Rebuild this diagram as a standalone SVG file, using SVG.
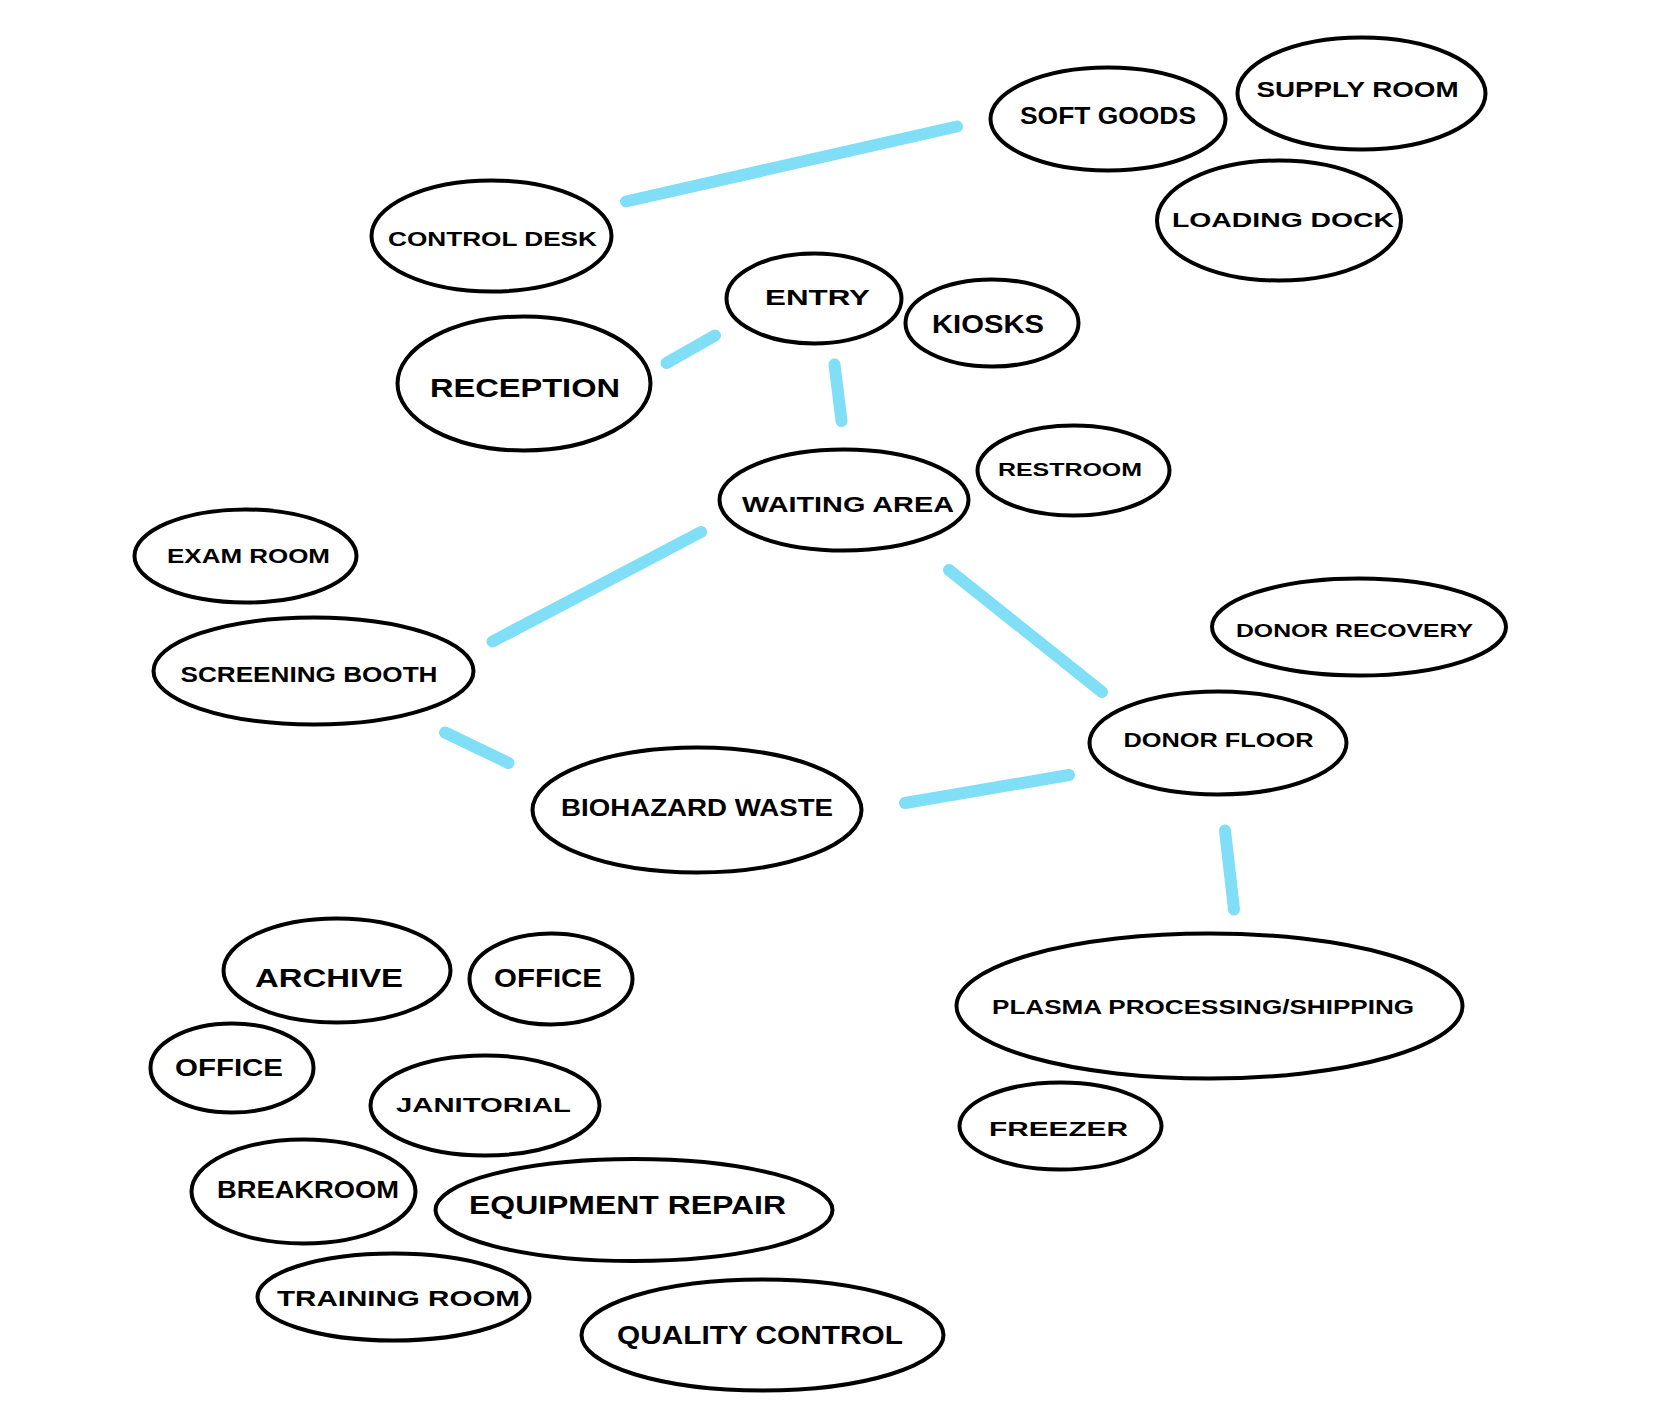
<svg xmlns="http://www.w3.org/2000/svg" width="1668" height="1426" viewBox="0 0 1668 1426">
<style>
.n ellipse{fill:#fff;stroke:#000;stroke-width:4}
.n text{font-family:"Liberation Sans",Arial,sans-serif;font-weight:bold;fill:#000;text-anchor:middle}
.c line{stroke:#80dff7;stroke-width:12;stroke-linecap:round}
</style>
<rect width="1668" height="1426" fill="#fff"/>
<g class="c" id="connectors">
<line x1="626" y1="201.5" x2="957" y2="126.5"/>
<line x1="666.5" y1="363" x2="715" y2="335.5"/>
<line x1="834.5" y1="364.5" x2="841.5" y2="421"/>
<line x1="701" y1="532" x2="492.5" y2="641.5"/>
<line x1="949" y1="570" x2="1102" y2="692"/>
<line x1="445" y1="732.5" x2="508.5" y2="763"/>
<line x1="905" y1="803" x2="1069" y2="775"/>
<line x1="1225" y1="830.5" x2="1234" y2="909.5"/>
</g>
<g class="n" id="control-desk"><ellipse cx="491.5" cy="236" rx="120" ry="55.5"/><text x="492.5" y="245.5" font-size="21" textLength="209" lengthAdjust="spacingAndGlyphs">CONTROL DESK</text></g>
<g class="n" id="soft-goods"><ellipse cx="1108" cy="119" rx="117.5" ry="51.5"/><text x="1108" y="124" font-size="24" textLength="176" lengthAdjust="spacingAndGlyphs">SOFT GOODS</text></g>
<g class="n" id="supply-room"><ellipse cx="1361.5" cy="93.5" rx="124" ry="56"/><text x="1357.5" y="97" font-size="22" textLength="202" lengthAdjust="spacingAndGlyphs">SUPPLY ROOM</text></g>
<g class="n" id="loading-dock"><ellipse cx="1279" cy="220.5" rx="122" ry="60"/><text x="1283" y="227" font-size="20" textLength="222" lengthAdjust="spacingAndGlyphs">LOADING  DOCK</text></g>
<g class="n" id="entry"><ellipse cx="814" cy="298.5" rx="87.5" ry="45"/><text x="817.5" y="305" font-size="22" textLength="105" lengthAdjust="spacingAndGlyphs">ENTRY</text></g>
<g class="n" id="kiosks"><ellipse cx="992" cy="323" rx="86.5" ry="43.5"/><text x="988" y="333" font-size="26" textLength="112" lengthAdjust="spacingAndGlyphs">KIOSKS</text></g>
<g class="n" id="reception"><ellipse cx="524" cy="383.5" rx="126.5" ry="67"/><text x="525" y="397" font-size="25" textLength="190" lengthAdjust="spacingAndGlyphs">RECEPTION</text></g>
<g class="n" id="waiting-area"><ellipse cx="844" cy="500" rx="124.5" ry="50.5"/><text x="848" y="512" font-size="22" textLength="212" lengthAdjust="spacingAndGlyphs">WAITING AREA</text></g>
<g class="n" id="restroom"><ellipse cx="1073.5" cy="470.5" rx="96" ry="45"/><text x="1070" y="476" font-size="18" textLength="144" lengthAdjust="spacingAndGlyphs">RESTROOM</text></g>
<g class="n" id="exam-room"><ellipse cx="245.5" cy="556" rx="111" ry="46.5"/><text x="248.5" y="563" font-size="21" textLength="163" lengthAdjust="spacingAndGlyphs">EXAM ROOM</text></g>
<g class="n" id="screening-booth"><ellipse cx="313.5" cy="671" rx="160" ry="53.5"/><text x="309" y="682" font-size="22" textLength="257" lengthAdjust="spacingAndGlyphs">SCREENING BOOTH</text></g>
<g class="n" id="biohazard-waste"><ellipse cx="697" cy="810" rx="164.5" ry="62.5"/><text x="697" y="816" font-size="23" textLength="272" lengthAdjust="spacingAndGlyphs">BIOHAZARD WASTE</text></g>
<g class="n" id="donor-recovery"><ellipse cx="1359" cy="627" rx="147" ry="48.5"/><text x="1354.5" y="637" font-size="18" textLength="237" lengthAdjust="spacingAndGlyphs">DONOR  RECOVERY</text></g>
<g class="n" id="donor-floor"><ellipse cx="1218" cy="743" rx="128.5" ry="51.5"/><text x="1218.5" y="747" font-size="20" textLength="190" lengthAdjust="spacingAndGlyphs">DONOR FLOOR</text></g>
<g class="n" id="plasma-processing"><ellipse cx="1209.5" cy="1006" rx="253" ry="72.5"/><text x="1203" y="1014" font-size="21" textLength="422" lengthAdjust="spacingAndGlyphs">PLASMA PROCESSING/SHIPPING</text></g>
<g class="n" id="freezer"><ellipse cx="1060.5" cy="1126" rx="101" ry="43.5"/><text x="1058.5" y="1136" font-size="21" textLength="139" lengthAdjust="spacingAndGlyphs">FREEZER</text></g>
<g class="n" id="archive"><ellipse cx="337" cy="970.5" rx="113.5" ry="52"/><text x="329" y="987" font-size="25" textLength="148" lengthAdjust="spacingAndGlyphs">ARCHIVE</text></g>
<g class="n" id="office-1"><ellipse cx="551" cy="979" rx="81.5" ry="45.5"/><text x="548" y="987" font-size="25" textLength="108" lengthAdjust="spacingAndGlyphs">OFFICE</text></g>
<g class="n" id="office-2"><ellipse cx="232" cy="1068" rx="81.5" ry="44.5"/><text x="229" y="1076" font-size="24" textLength="108" lengthAdjust="spacingAndGlyphs">OFFICE</text></g>
<g class="n" id="janitorial"><ellipse cx="485" cy="1105.5" rx="114.5" ry="50"/><text x="483.5" y="1112" font-size="21" textLength="175" lengthAdjust="spacingAndGlyphs">JANITORIAL</text></g>
<g class="n" id="breakroom"><ellipse cx="303.5" cy="1191.5" rx="112" ry="52"/><text x="308" y="1198" font-size="24" textLength="182" lengthAdjust="spacingAndGlyphs">BREAKROOM</text></g>
<g class="n" id="equipment-repair"><ellipse cx="634" cy="1210" rx="198.5" ry="51"/><text x="627.5" y="1214" font-size="25" textLength="317" lengthAdjust="spacingAndGlyphs">EQUIPMENT REPAIR</text></g>
<g class="n" id="training-room"><ellipse cx="393.5" cy="1297" rx="136" ry="43.5"/><text x="398.5" y="1306" font-size="22" textLength="243" lengthAdjust="spacingAndGlyphs">TRAINING ROOM</text></g>
<g class="n" id="quality-control"><ellipse cx="762.5" cy="1335" rx="181" ry="55.5"/><text x="760" y="1344" font-size="26" textLength="286" lengthAdjust="spacingAndGlyphs">QUALITY  CONTROL</text></g>
</svg>
